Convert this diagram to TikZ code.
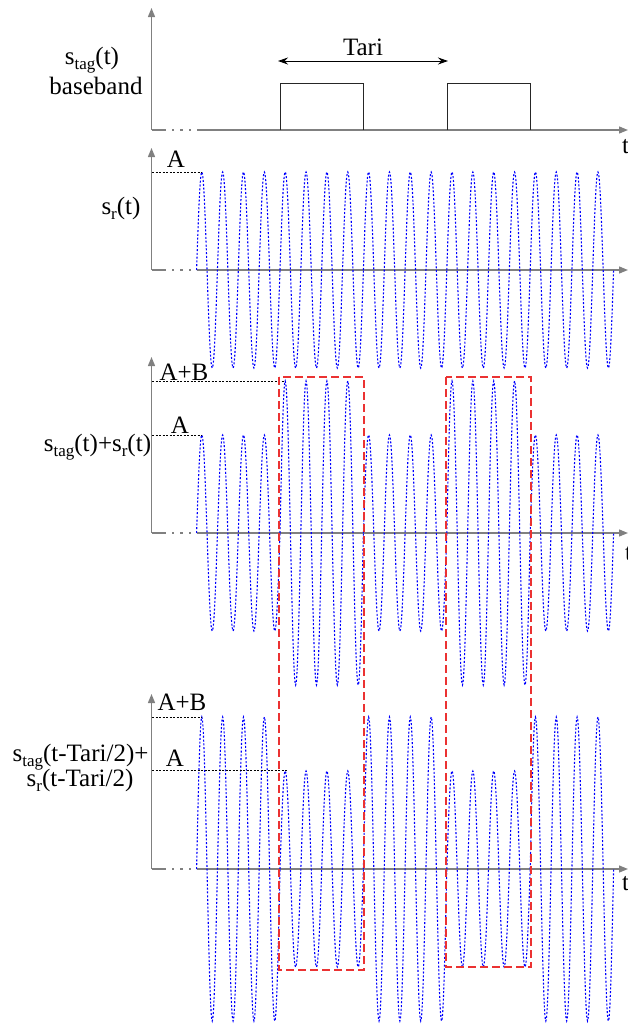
\documentclass[tikz,border=0pt]{standalone}
\usepackage{fontspec}
\setmainfont{Liberation Serif}
\usetikzlibrary{arrows.meta}
\definecolor{axgray}{RGB}{128,128,128}
\definecolor{boxred}{RGB}{235,50,50}
\newcommand\mysub[1]{\raisebox{-0.2em}{\fontsize{17}{17}\selectfont #1}}
\newcommand\sigwave[3]{%
  \draw[sig] plot[domain=0:83.4, samples=161] ({#1+\x},{#2-#3*sin(\x/20.85*360)});}
\newcommand\axes[2]{% #1 axis y, #2 top y
  \draw[axis] (151.5,#1) -- (166,#1);
  \draw[axarrow] (197,#1) -- (628,#1);
  \draw[axarrow] (151.5,#1) -- (151.5,#2);
  \foreach \d in {173,181.5,190} \fill[axgray] (\d-1.2,#1-1) rectangle (\d+1.2,#1+1);}
\begin{document}
\begin{tikzpicture}[x=1pt,y=-1pt,
  axis/.style={draw=axgray, line width=1.3pt},
  axarrow/.style={axis, -{Triangle[length=9pt,width=7pt]}},
  sig/.style={draw=blue, line width=1.1pt, dash pattern=on 2pt off 1.8pt},
  lvl/.style={draw=black, line width=0.8pt, dash pattern=on 2pt off 1.5pt},
  redbox/.style={draw=boxred, line width=1.5pt, dash pattern=on 8pt off 4pt},
  lbl/.style={font=\fontsize{25}{27}\selectfont, inner sep=0pt, anchor=base}
]
\useasboundingbox (0,0) rectangle (628,1026);

% ---------- panel 1 ----------
\axes{130}{8}
\draw[black!85, line width=0.9pt] (280,130) -- (280,83.5) -- (363,83.5) -- (363,130)
  (447,130) -- (447,83.5) -- (530,83.5) -- (530,130);
\draw[black, line width=0.9pt, {Stealth[length=10pt,width=7pt]}-{Stealth[length=10pt,width=7pt]}] (278,61) -- (448,61);
\node[lbl] (tari) at (363,55) {Tari};
\node[lbl] (l1a) at (92,64) {s\mysub{tag}(t)};
\node[lbl] (l1b) at (96,94) {baseband};
\node[lbl, anchor=base west] (t1) at (622,153) {t};

% ---------- panel 2 ----------
\axes{270}{148}
\foreach \k in {0,...,4} {\sigwave{196.6+\k*83.4}{270}{98}}
\draw[lvl] (152,172) -- (202,172);
\node[lbl] (a2) at (176,167) {A};
\node[lbl] (l2) at (121,214) {s\mysub{r}(t)};

% ---------- panel 3 ----------
\axes{533}{357}
\foreach \k/\a in {0/98,1/152,2/98,3/152,4/98} {\sigwave{196.6+\k*83.4}{533}{\a}}
\draw[lvl] (152,435) -- (202,435);
\draw[lvl] (152,381) -- (285,381);
\node[lbl] (ab3) at (184,380) {A+B};
\node[lbl] (a3) at (180,433) {A};
\node[lbl] (l3) at (97.5,451) {s\mysub{tag}(t)+s\mysub{r}(t)};
\node[lbl, anchor=base west] (t3) at (625,560) {t};

% ---------- panel 4 ----------
\axes{869}{694}
\foreach \k/\a in {0/152,1/98,2/152,3/98,4/152} {\sigwave{196.6+\k*83.4}{869}{\a}}
\draw[lvl] (152,717) -- (202,717);
\draw[lvl] (152,770) -- (287,770);
\node[lbl] (ab4) at (182,710) {A+B};
\node[lbl] (a4) at (175,766) {A};
\node[lbl] (l4a) at (80.5,761) {s\mysub{tag}(t-Tari/2)+};
\node[lbl] (l4b) at (80,786) {s\mysub{r}(t-Tari/2)};
\node[lbl, anchor=base west] (t4) at (622,890) {t};

% ---------- red boxes ----------
\draw[redbox] (279,377) rectangle (364,970);
\draw[redbox] (446,377) rectangle (531,967);
\end{tikzpicture}
\end{document}
